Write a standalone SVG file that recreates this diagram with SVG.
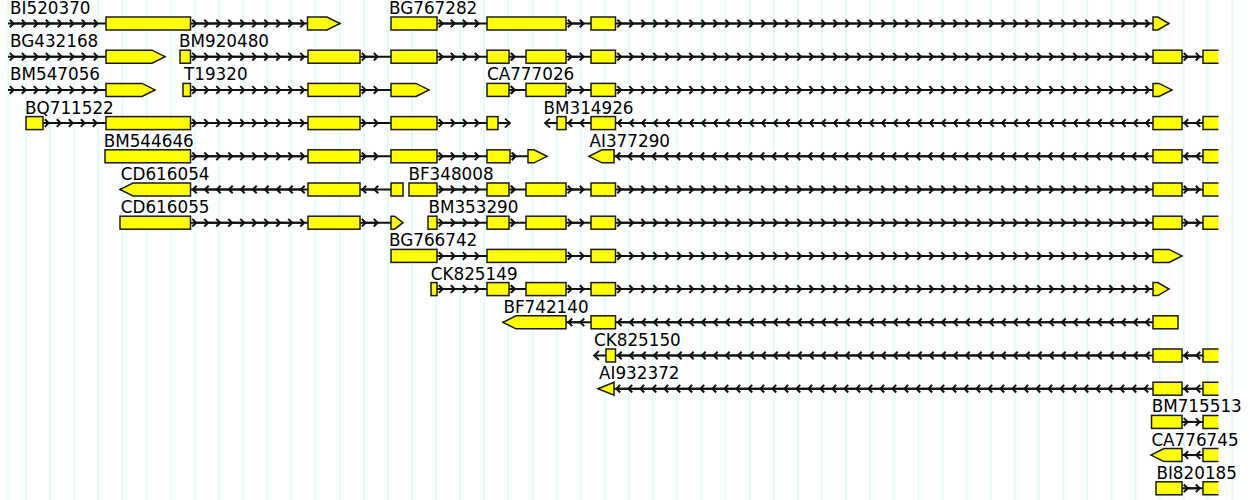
<svg xmlns="http://www.w3.org/2000/svg" width="1252" height="500" viewBox="0 0 1252 500">
<style>
.ex{fill:#ffff00;stroke:#1a1a1a;stroke-width:1.5}
.ln{stroke:#111;stroke-width:2;fill:none}
.cr{stroke:#111;stroke-width:2;fill:none;marker-start:url(#mr);marker-mid:url(#mr);marker-end:url(#mr)}
.cl{stroke:#111;stroke-width:2;fill:none;marker-start:url(#ml);marker-mid:url(#ml);marker-end:url(#ml)}
.oa{stroke:#111;stroke-width:1.8;fill:none}
.lb{font-family:"DejaVu Sans","Liberation Sans",sans-serif;font-size:16.8px;fill:#000}
</style>
<defs>
<marker id="mr" markerUnits="userSpaceOnUse" markerWidth="10" markerHeight="10" refX="0" refY="0" orient="0" overflow="visible"><path d="M-3.2 -3.8L0.6 0L-3.2 3.8" fill="none" stroke="#111" stroke-width="2"/></marker>
<marker id="ml" markerUnits="userSpaceOnUse" markerWidth="10" markerHeight="10" refX="0" refY="0" orient="0" overflow="visible"><path d="M3.2 -3.8L-0.6 0L3.2 3.8" fill="none" stroke="#111" stroke-width="2"/></marker>
<pattern id="grid" patternUnits="userSpaceOnUse" x="25" y="0" width="24.12" height="500"><rect x="0.25" y="0" width="1.5" height="500" fill="#d8fbfb"/></pattern>
</defs>
<rect width="1252" height="500" fill="#fff"/>
<g id="grid-lines">
<rect x="5" y="0" width="1237" height="500" fill="url(#grid)"/>
<rect x="7.25" y="0" width="1.5" height="500" fill="#d8fbfb"/>
</g>
<g id="connectors">
<g transform="translate(0,23.5)">
<line class="ln" x1="8" y1="0" x2="340" y2="0"/>
<path class="cr" d="M13 0h12h12h12h12h12h12h12M195.5 0h12h12h12h12h12h12h12h12h12"/>
<line class="ln" x1="391" y1="0" x2="1169" y2="0"/>
<path class="cr" d="M442 0h12h12h12M571 0h12M620.5 0h12h12h12h12h12h12h12h12h12h12h12h12h12h12h12h12h12h12h12h12h12h12h12h12h12h12h12h12h12h12h12h12h12h12h12h12h12h12h12h12h12h12h12h12"/>
</g>
<g transform="translate(0,56.7)">
<line class="ln" x1="8" y1="0" x2="165" y2="0"/>
<path class="cr" d="M13 0h12h12h12h12h12h12h12"/>
<line class="ln" x1="180" y1="0" x2="1218" y2="0"/>
<path class="cr" d="M195.5 0h12h12h12h12h12h12h12h12h12M365 0h12M442 0h12h12h12M514 0h0.01M571 0h12M620.5 0h12h12h12h12h12h12h12h12h12h12h12h12h12h12h12h12h12h12h12h12h12h12h12h12h12h12h12h12h12h12h12h12h12h12h12h12h12h12h12h12h12h12h12h12M1187 0h12"/>
</g>
<g transform="translate(0,89.9)">
<line class="ln" x1="8" y1="0" x2="155" y2="0"/>
<path class="cr" d="M13 0h12h12h12h12h12h12h12"/>
<line class="ln" x1="183" y1="0" x2="429" y2="0"/>
<path class="cr" d="M195.5 0h12h12h12h12h12h12h12h12h12M365 0h12"/>
<line class="ln" x1="487" y1="0" x2="1172" y2="0"/>
<path class="cr" d="M514 0h0.01M571 0h12M620.5 0h12h12h12h12h12h12h12h12h12h12h12h12h12h12h12h12h12h12h12h12h12h12h12h12h12h12h12h12h12h12h12h12h12h12h12h12h12h12h12h12h12h12h12h12"/>
</g>
<g transform="translate(0,123.1)">
<line class="ln" x1="26" y1="0" x2="510" y2="0"/>
<path class="cr" d="M48 0h12h12h12h12M195.5 0h12h12h12h12h12h12h12h12h12M365 0h12M442 0h12h12h12"/>
<path class="oa" d="M505 -4.5L510 0L505 4.5"/>
<line class="ln" x1="545" y1="0" x2="1218" y2="0"/>
<path class="cl" d="M569 0h12M618.5 0h12h12h12h12h12h12h12h12h12h12h12h12h12h12h12h12h12h12h12h12h12h12h12h12h12h12h12h12h12h12h12h12h12h12h12h12h12h12h12h12h12h12h12h12M1185 0h12"/>
<path class="oa" d="M550 -4.5L545 0L550 4.5"/>
</g>
<g transform="translate(0,156.3)">
<line class="ln" x1="105" y1="0" x2="547" y2="0"/>
<path class="cr" d="M195.5 0h12h12h12h12h12h12h12h12h12M365 0h12M442 0h12h12h12M515 0h0.01"/>
<line class="ln" x1="589" y1="0" x2="1218" y2="0"/>
<path class="cl" d="M617 0h12h12h12h12h12h12h12h12h12h12h12h12h12h12h12h12h12h12h12h12h12h12h12h12h12h12h12h12h12h12h12h12h12h12h12h12h12h12h12h12h12h12h12h12M1185 0h12"/>
</g>
<g transform="translate(0,189.5)">
<line class="ln" x1="120" y1="0" x2="403" y2="0"/>
<path class="cl" d="M193.5 0h12h12h12h12h12h12h12h12h12M363 0h12"/>
<line class="ln" x1="409" y1="0" x2="1218" y2="0"/>
<path class="cr" d="M442 0h12h12h12M514 0h0.01M571 0h12M620.5 0h12h12h12h12h12h12h12h12h12h12h12h12h12h12h12h12h12h12h12h12h12h12h12h12h12h12h12h12h12h12h12h12h12h12h12h12h12h12h12h12h12h12h12h12M1187 0h12"/>
</g>
<g transform="translate(0,222.7)">
<line class="ln" x1="120" y1="0" x2="403" y2="0"/>
<path class="cr" d="M195.5 0h12h12h12h12h12h12h12h12h12M365 0h12"/>
<line class="ln" x1="428" y1="0" x2="1218" y2="0"/>
<path class="cr" d="M442 0h12h12h12M514 0h0.01M571 0h12M620.5 0h12h12h12h12h12h12h12h12h12h12h12h12h12h12h12h12h12h12h12h12h12h12h12h12h12h12h12h12h12h12h12h12h12h12h12h12h12h12h12h12h12h12h12h12M1187 0h12"/>
</g>
<g transform="translate(0,255.9)">
<line class="ln" x1="391" y1="0" x2="1182" y2="0"/>
<path class="cr" d="M442 0h12h12h12M571 0h12M620.5 0h12h12h12h12h12h12h12h12h12h12h12h12h12h12h12h12h12h12h12h12h12h12h12h12h12h12h12h12h12h12h12h12h12h12h12h12h12h12h12h12h12h12h12h12"/>
</g>
<g transform="translate(0,289.1)">
<line class="ln" x1="431" y1="0" x2="1169" y2="0"/>
<path class="cr" d="M442 0h12h12h12M514 0h0.01M571 0h12M620.5 0h12h12h12h12h12h12h12h12h12h12h12h12h12h12h12h12h12h12h12h12h12h12h12h12h12h12h12h12h12h12h12h12h12h12h12h12h12h12h12h12h12h12h12h12"/>
</g>
<g transform="translate(0,322.3)">
<line class="ln" x1="503" y1="0" x2="1178" y2="0"/>
<path class="cl" d="M569 0h12M618.5 0h12h12h12h12h12h12h12h12h12h12h12h12h12h12h12h12h12h12h12h12h12h12h12h12h12h12h12h12h12h12h12h12h12h12h12h12h12h12h12h12h12h12h12h12"/>
</g>
<g transform="translate(0,355.5)">
<line class="ln" x1="594" y1="0" x2="1218" y2="0"/>
<path class="cl" d="M618.5 0h12h12h12h12h12h12h12h12h12h12h12h12h12h12h12h12h12h12h12h12h12h12h12h12h12h12h12h12h12h12h12h12h12h12h12h12h12h12h12h12h12h12h12h12M1185 0h12"/>
<path class="oa" d="M599 -4.5L594 0L599 4.5"/>
</g>
<g transform="translate(0,388.7)">
<line class="ln" x1="598" y1="0" x2="1218" y2="0"/>
<path class="cl" d="M617 0h12h12h12h12h12h12h12h12h12h12h12h12h12h12h12h12h12h12h12h12h12h12h12h12h12h12h12h12h12h12h12h12h12h12h12h12h12h12h12h12h12h12h12h12M1185 0h12"/>
</g>
<g transform="translate(0,421.9)">
<line class="ln" x1="1151.5" y1="0" x2="1218" y2="0"/>
<path class="cr" d="M1187 0h12"/>
</g>
<g transform="translate(0,455.1)">
<line class="ln" x1="1151" y1="0" x2="1218" y2="0"/>
<path class="cl" d="M1185 0h12"/>
</g>
<g transform="translate(0,488.3)">
<line class="ln" x1="1156" y1="0" x2="1218" y2="0"/>
<path class="cr" d="M1187 0h12"/>
</g>
</g>
<g id="BI520370" transform="translate(0,23.5)">
<text class="lb" x="10" y="-9.5">BI520370</text>
<rect class="ex" x="106" y="-6.5" width="84.5" height="13"/>
<polygon class="ex" points="307.5,-6.5 327,-6.5 340,0 327,6.5 307.5,6.5"/>
</g>
<g id="BG767282" transform="translate(0,23.5)">
<text class="lb" x="389" y="-9.5">BG767282</text>
<rect class="ex" x="391" y="-6.5" width="46" height="13"/>
<rect class="ex" x="487" y="-6.5" width="79" height="13"/>
<rect class="ex" x="591" y="-6.5" width="24.5" height="13"/>
<polygon class="ex" points="1153,-6.5 1157.8,-6.5 1169,0 1157.8,6.5 1153,6.5"/>
</g>
<g id="BG432168" transform="translate(0,56.7)">
<text class="lb" x="10" y="-9.5">BG432168</text>
<polygon class="ex" points="106,-6.5 152,-6.5 165,0 152,6.5 106,6.5"/>
</g>
<g id="BM920480" transform="translate(0,56.7)">
<text class="lb" x="179" y="-9.5">BM920480</text>
<rect class="ex" x="180" y="-6.5" width="10.5" height="13"/>
<rect class="ex" x="308" y="-6.5" width="52" height="13"/>
<rect class="ex" x="391" y="-6.5" width="46" height="13"/>
<rect class="ex" x="487" y="-6.5" width="22" height="13"/>
<rect class="ex" x="526" y="-6.5" width="40" height="13"/>
<rect class="ex" x="591" y="-6.5" width="24.5" height="13"/>
<rect class="ex" x="1153" y="-6.5" width="29" height="13"/>
<path class="ex" d="M1218.5 -6.5H1203V6.5H1218.5"/>
</g>
<g id="BM547056" transform="translate(0,89.9)">
<text class="lb" x="10" y="-9.5">BM547056</text>
<polygon class="ex" points="106,-6.5 142,-6.5 155,0 142,6.5 106,6.5"/>
</g>
<g id="T19320" transform="translate(0,89.9)">
<text class="lb" x="184" y="-9.5">T19320</text>
<rect class="ex" x="183" y="-6.5" width="7.5" height="13"/>
<rect class="ex" x="308" y="-6.5" width="52" height="13"/>
<polygon class="ex" points="391,-6.5 416,-6.5 429,0 416,6.5 391,6.5"/>
</g>
<g id="CA777026" transform="translate(0,89.9)">
<text class="lb" x="487" y="-9.5">CA777026</text>
<rect class="ex" x="487" y="-6.5" width="22" height="13"/>
<rect class="ex" x="526" y="-6.5" width="40" height="13"/>
<rect class="ex" x="591" y="-6.5" width="24.5" height="13"/>
<polygon class="ex" points="1153,-6.5 1159,-6.5 1172,0 1159,6.5 1153,6.5"/>
</g>
<g id="BQ711522" transform="translate(0,123.1)">
<text class="lb" x="25" y="-9.5">BQ711522</text>
<rect class="ex" x="26" y="-6.5" width="17" height="13"/>
<rect class="ex" x="106" y="-6.5" width="84.5" height="13"/>
<rect class="ex" x="308" y="-6.5" width="52" height="13"/>
<rect class="ex" x="391" y="-6.5" width="46" height="13"/>
<rect class="ex" x="487" y="-6.5" width="11" height="13"/>
</g>
<g id="BM314926" transform="translate(0,123.1)">
<text class="lb" x="543.5" y="-9.5">BM314926</text>
<rect class="ex" x="557" y="-6.5" width="9" height="13"/>
<rect class="ex" x="591" y="-6.5" width="24.5" height="13"/>
<rect class="ex" x="1153" y="-6.5" width="29" height="13"/>
<path class="ex" d="M1218.5 -6.5H1203V6.5H1218.5"/>
</g>
<g id="BM544646" transform="translate(0,156.3)">
<text class="lb" x="103.7" y="-9.5">BM544646</text>
<rect class="ex" x="105" y="-6.5" width="85.5" height="13"/>
<rect class="ex" x="308" y="-6.5" width="52" height="13"/>
<rect class="ex" x="391" y="-6.5" width="46" height="13"/>
<rect class="ex" x="487" y="-6.5" width="23" height="13"/>
<polygon class="ex" points="528,-6.5 534,-6.5 547,0 534,6.5 528,6.5"/>
</g>
<g id="AI377290" transform="translate(0,156.3)">
<text class="lb" x="589.5" y="-9.5">AI377290</text>
<polygon class="ex" points="614,-6.5 602,-6.5 589,0 602,6.5 614,6.5"/>
<rect class="ex" x="1153" y="-6.5" width="29" height="13"/>
<path class="ex" d="M1218.5 -6.5H1203V6.5H1218.5"/>
</g>
<g id="CD616054" transform="translate(0,189.5)">
<text class="lb" x="120.8" y="-9.5">CD616054</text>
<polygon class="ex" points="190.5,-6.5 133,-6.5 120,0 133,6.5 190.5,6.5"/>
<rect class="ex" x="308" y="-6.5" width="52" height="13"/>
<rect class="ex" x="391" y="-6.5" width="12" height="13"/>
</g>
<g id="BF348008" transform="translate(0,189.5)">
<text class="lb" x="408.4" y="-9.5">BF348008</text>
<rect class="ex" x="409" y="-6.5" width="28" height="13"/>
<rect class="ex" x="487" y="-6.5" width="22" height="13"/>
<rect class="ex" x="526" y="-6.5" width="40" height="13"/>
<rect class="ex" x="591" y="-6.5" width="24.5" height="13"/>
<rect class="ex" x="1153" y="-6.5" width="29" height="13"/>
<path class="ex" d="M1218.5 -6.5H1203V6.5H1218.5"/>
</g>
<g id="CD616055" transform="translate(0,222.7)">
<text class="lb" x="120.8" y="-9.5">CD616055</text>
<rect class="ex" x="120" y="-6.5" width="70.5" height="13"/>
<rect class="ex" x="308" y="-6.5" width="52" height="13"/>
<polygon class="ex" points="391,-6.5 394.6,-6.5 403,0 394.6,6.5 391,6.5"/>
</g>
<g id="BM353290" transform="translate(0,222.7)">
<text class="lb" x="428.4" y="-9.5">BM353290</text>
<rect class="ex" x="428" y="-6.5" width="9" height="13"/>
<rect class="ex" x="487" y="-6.5" width="22" height="13"/>
<rect class="ex" x="526" y="-6.5" width="40" height="13"/>
<rect class="ex" x="591" y="-6.5" width="24.5" height="13"/>
<rect class="ex" x="1153" y="-6.5" width="29" height="13"/>
<path class="ex" d="M1218.5 -6.5H1203V6.5H1218.5"/>
</g>
<g id="BG766742" transform="translate(0,255.9)">
<text class="lb" x="389" y="-9.5">BG766742</text>
<rect class="ex" x="391" y="-6.5" width="46" height="13"/>
<rect class="ex" x="487" y="-6.5" width="79" height="13"/>
<rect class="ex" x="591" y="-6.5" width="24.5" height="13"/>
<polygon class="ex" points="1153,-6.5 1169,-6.5 1182,0 1169,6.5 1153,6.5"/>
</g>
<g id="CK825149" transform="translate(0,289.1)">
<text class="lb" x="430.8" y="-9.5">CK825149</text>
<rect class="ex" x="431" y="-6.5" width="6" height="13"/>
<rect class="ex" x="487" y="-6.5" width="22" height="13"/>
<rect class="ex" x="526" y="-6.5" width="40" height="13"/>
<rect class="ex" x="591" y="-6.5" width="24.5" height="13"/>
<polygon class="ex" points="1153,-6.5 1157.8,-6.5 1169,0 1157.8,6.5 1153,6.5"/>
</g>
<g id="BF742140" transform="translate(0,322.3)">
<text class="lb" x="503.4" y="-9.5">BF742140</text>
<polygon class="ex" points="566,-6.5 516,-6.5 503,0 516,6.5 566,6.5"/>
<rect class="ex" x="591" y="-6.5" width="24.5" height="13"/>
<rect class="ex" x="1153" y="-6.5" width="25" height="13"/>
</g>
<g id="CK825150" transform="translate(0,355.5)">
<text class="lb" x="594" y="-9.5">CK825150</text>
<rect class="ex" x="606" y="-6.5" width="9.5" height="13"/>
<rect class="ex" x="1153" y="-6.5" width="29" height="13"/>
<path class="ex" d="M1218.5 -6.5H1203V6.5H1218.5"/>
</g>
<g id="AI932372" transform="translate(0,388.7)">
<text class="lb" x="599" y="-9.5">AI932372</text>
<polygon class="ex" points="614,-6.5 598,0 614,6.5"/>
<rect class="ex" x="1153" y="-6.5" width="29" height="13"/>
<path class="ex" d="M1218.5 -6.5H1203V6.5H1218.5"/>
</g>
<g id="BM715513" transform="translate(0,421.9)">
<text class="lb" x="1151.7" y="-9.5">BM715513</text>
<rect class="ex" x="1151.5" y="-6.5" width="30.5" height="13"/>
<path class="ex" d="M1218.5 -6.5H1203V6.5H1218.5"/>
</g>
<g id="CA776745" transform="translate(0,455.1)">
<text class="lb" x="1151.4" y="-9.5">CA776745</text>
<polygon class="ex" points="1182,-6.5 1164,-6.5 1151,0 1164,6.5 1182,6.5"/>
<path class="ex" d="M1218.5 -6.5H1203V6.5H1218.5"/>
</g>
<g id="BI820185" transform="translate(0,488.3)">
<text class="lb" x="1156.4" y="-9.5">BI820185</text>
<rect class="ex" x="1156" y="-6.5" width="26" height="13"/>
<path class="ex" d="M1218.5 -6.5H1203V6.5H1218.5"/>
</g>
</svg>
